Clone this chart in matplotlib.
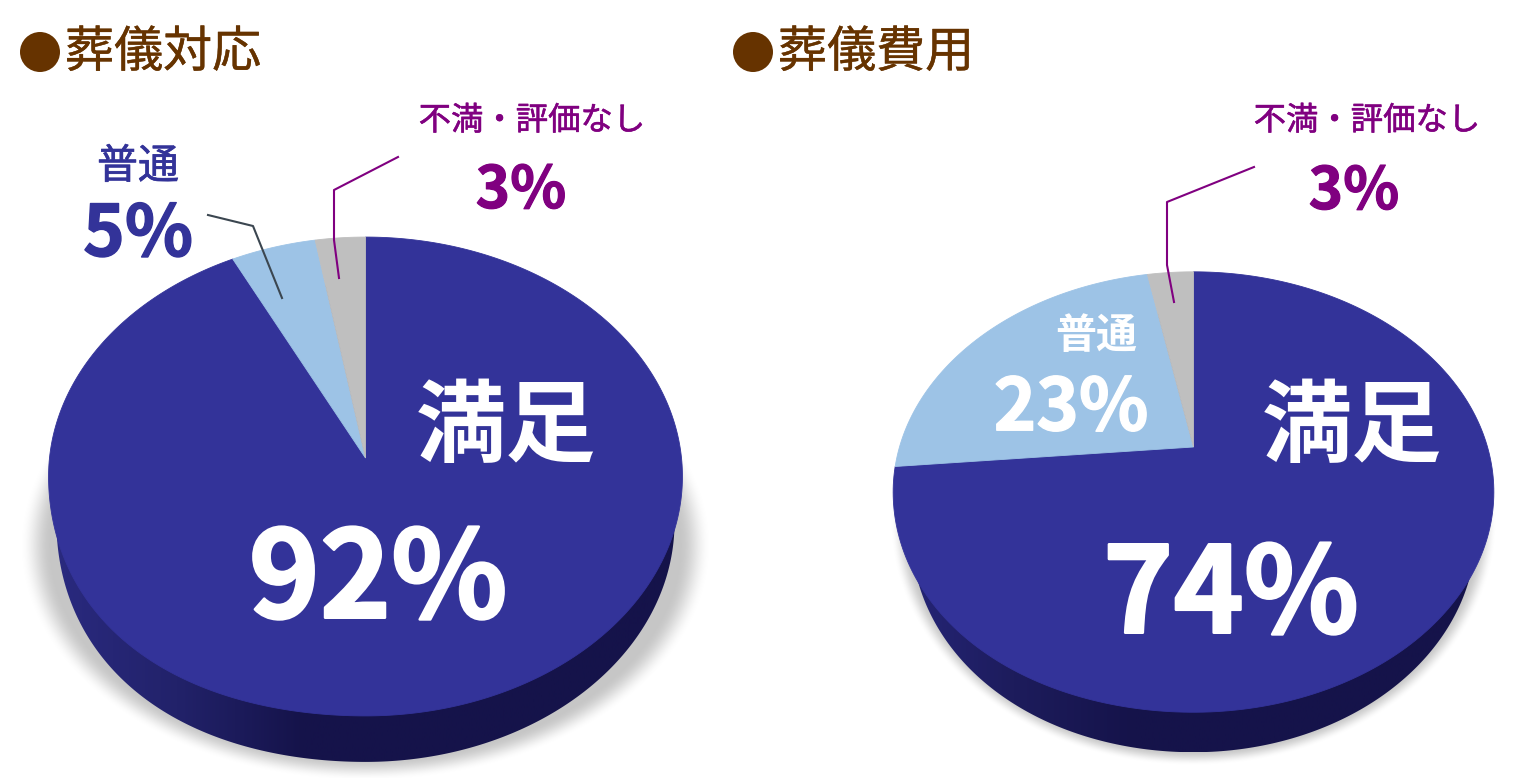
import numpy as np
import matplotlib
matplotlib.use("Agg")
import matplotlib.pyplot as plt
import matplotlib.patheffects as pe
from matplotlib.patches import Circle, PathPatch
from matplotlib.path import Path
from matplotlib.transforms import Transform, Affine2D

plt.rcParams['font.family'] = ['Noto Sans CJK JP', 'DejaVu Sans']

# ---- data ----
titles = ['葬儀対応', '葬儀費用']
categories = ['不満・評価なし', '普通', '満足']
values_left = [3, 5, 92]
values_right = [3, 23, 74]

NAVY, LIGHT, GREY = '#333399', '#9DC3E6', '#BFBFBF'
PURPLE, BROWN = '#800080', '#663300'
SLICE_COLORS = [GREY, LIGHT, NAVY]

W, H = 1532, 778
fig = plt.figure(figsize=(W / 100, H / 100), dpi=100, facecolor='white')
ax = fig.add_axes([0, 0, 1, 1])


class Perspective(Transform):
    """Tilts a unit pie: maps it onto an ellipse whose apex sits off centre."""
    input_dims = output_dims = 2

    def __init__(self, cx, cy, s, t, k, warp=(0, 0), bulge=0):
        super().__init__()
        self.cx, self.cy, self.s, self.t, self.k = cx, cy, s, t, k
        self.warp, self.bulge = warp, bulge

    def transform_non_affine(self, xy):
        xy = np.asarray(xy, float)
        r = np.hypot(xy[:, 0], xy[:, 1])
        phi = np.arctan2(-xy[:, 0], xy[:, 1])
        phi = phi + self.warp[0] * np.sin(2 * phi) + self.warp[1] * np.sin(phi) ** 2 * np.sign(phi)
        x, y = -r * np.sin(phi), r * np.cos(phi)
        d = 1 + self.k * y
        X = self.s * x / d
        Y = -self.t * y / d
        top, bot = -self.t / (1 + self.k), self.t / (1 - self.k)
        ec, ry = (top + bot) / 2, (bot - top) / 2
        rx = self.s / np.sqrt(1 - self.k ** 2)
        dy = Y - ec
        a = np.arctan2(dy / ry, -X / rx)
        f = np.where((X < 0) & (dy > 0), 1 + self.bulge * np.sin(2 * a) ** 2, 1.0)
        return np.c_[self.cx + X * f, self.cy + ec + dy * f]

    def transform_path_non_affine(self, path):
        polys = path.to_polygons(Affine2D().scale(3000), closed_only=True)
        return Path(self.transform_non_affine(polys[0] / 3000), closed=True)


def soft_shadow(cx, cy, rx, ry, soft, top, strength):
    yy, xx = np.mgrid[0:H, 0:W]
    d = np.hypot((xx - cx) / rx, (yy - cy) / ry)
    e = np.clip((1 - d) / soft, 0, 1)
    e = e * e * (3 - 2 * e)
    e = e * np.clip((yy - top) / 40, 0, 1)
    rgba = np.zeros((H, W, 4))
    rgba[..., :3] = 0.74
    rgba[..., 3] = e * strength
    ax.imshow(rgba, extent=(0, W, H, 0), zorder=1, interpolation='bilinear', aspect='auto')


def draw_pie(values, cx, apex_y, s, t, k, depth, narrow, warp, bulge, grad_cols):
    tr = Perspective(cx, apex_y, s, t, k, warp, bulge)
    th = np.linspace(0, 2 * np.pi, 721)
    rim = tr.transform_non_affine(np.c_[np.cos(th), np.sin(th)])
    shifted = rim + [0, depth]
    shifted[:, 0] = cx + (shifted[:, 0] - cx) * narrow
    # extruded side with horizontal gradient
    xs = np.linspace(rim[:, 0].min(), rim[:, 0].max(), 256)
    u = (xs - xs.min()) / (xs.max() - xs.min())
    rgb = np.array([matplotlib.colors.to_rgb(c) for c in grad_cols])
    pos = np.linspace(0, 1, len(rgb))
    grad = np.stack([np.interp(u, pos, rgb[:, i]) for i in range(3)], -1)[None, :, :]
    y0, y1 = rim[:, 1].min(), shifted[:, 1].max()
    im = ax.imshow(grad, extent=(xs.min(), xs.max(), y1, y0), zorder=2, aspect='auto')
    clip = PathPatch(Path(shifted, closed=True), transform=ax.transData, fc='none', ec='none')
    ax.add_patch(clip)
    im.set_clip_path(clip)
    wedges, _ = ax.pie(values, colors=SLICE_COLORS, startangle=90, counterclock=True,
                       wedgeprops=dict(linewidth=0.6))
    for w, c, z in zip(wedges, SLICE_COLORS, (3.2, 3.1, 3.0)):
        w.set_transform(tr + ax.transData)
        w.set_edgecolor(c)
        w.set_zorder(z)


soft_shadow(365, 545, 345, 235, 0.09, 425, 0.85)
draw_pie(values_left, 365.5, 458, 316, 238, 0.0772, 46, 0.975, (-0.044, 0), 0.025,
         ['#2A2A80', '#22226A', '#15134A', '#15134A', '#15134A', '#15134A'])
soft_shadow(1193, 520, 303, 245, 0.06, 480, 0.85)
draw_pie(values_right, 1193.5, 447, 294, 211, 0.2045, 40, 0.94, (0, 0.028), 0.007,
         ['#26267A', '#1D1C5C', '#15134A', '#15134A', '#15134A', '#15134A'])

ax.set_aspect('auto')
ax.set_xlim(0, W)
ax.set_ylim(H, 0)
ax.set_axis_off()


def label(x, y, s, color, size, weight='normal', stroke=0.0):
    t = ax.text(x, y, s, color=color, fontsize=size, fontweight=weight,
                ha='center', va='center', zorder=6)
    if stroke:
        t.set_path_effects([pe.withStroke(linewidth=stroke, foreground=color)])
    return t


# ---- titles ----
for x_dot, x_txt, title in [(40, 65, titles[0]), (753, 778, titles[1])]:
    ax.add_patch(Circle((x_dot, 52), 20, fc=BROWN, ec='none', zorder=4))
    ax.text(x_txt, 53, title, color=BROWN, fontsize=35.3, ha='left', va='center', zorder=5,
            path_effects=[pe.withStroke(linewidth=0.3, foreground=BROWN)])

# ---- leader lines ----
ax.plot([398, 334, 334, 339], [157, 190, 240, 278], color=PURPLE, lw=1.5, zorder=5)
ax.plot([1254, 1167, 1167, 1174], [167, 202, 265, 302], color=PURPLE, lw=1.5, zorder=5)
ax.plot([208, 253, 282], [215, 226, 298], color='#3B4650', lw=1.5, zorder=5)


def pct(v):
    return f'{v}%'


# ---- labels, left ----
label(532, 121, categories[0], PURPLE, 23.3, stroke=0.4)
label(521, 191, pct(values_left[0]), PURPLE, 42, 'bold', 0.8)
label(138, 167, categories[1], NAVY, 29.5, stroke=0.5)
label(138, 235, pct(values_left[1]), NAVY, 51, 'bold', 1.0)
label(506, 428, categories[2], 'white', 65, 'bold')
label(378, 583, pct(values_left[2]), 'white', 87, 'bold', 1.8)

# ---- labels, right ----
label(1367, 121, categories[0], PURPLE, 23.3, stroke=0.4)
label(1354, 192, pct(values_right[0]), PURPLE, 42, 'bold', 0.8)
label(1096, 336, categories[1], 'white', 29.5, 'bold')
label(1071, 409, pct(values_right[1]), 'white', 52, 'bold', 1.0)
label(1352, 428, categories[2], 'white', 65, 'bold')
label(1231, 598, pct(values_right[2]), 'white', 86, 'bold', 1.8)

fig.savefig('out.png', dpi=100, facecolor='white')
